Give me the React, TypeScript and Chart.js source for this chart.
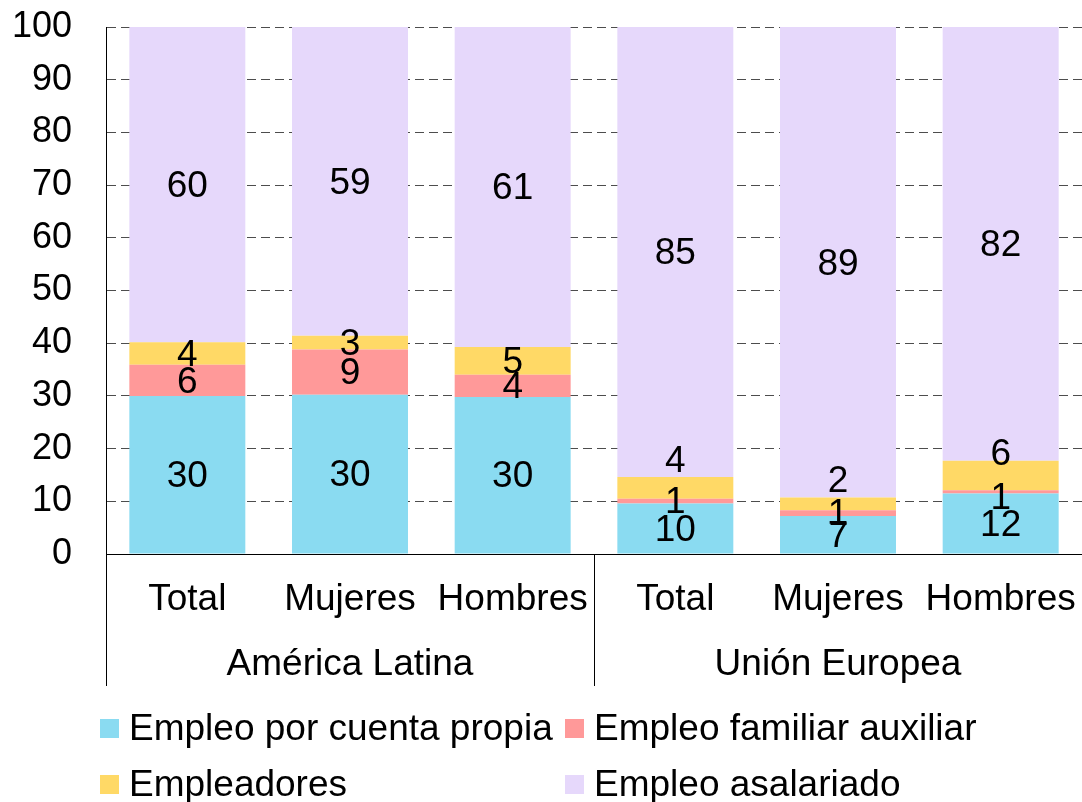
import React, { useEffect, useRef } from "react";
import { Chart, registerables } from "chart.js";

Chart.register(...registerables);

const categories = ["Total", "Mujeres", "Hombres", "Total", "Mujeres", "Hombres"];
const groups = ["América Latina", "Unión Europea"];
const seriesNames = [
  "Empleo por cuenta propia",
  "Empleo familiar auxiliar",
  "Empleadores",
  "Empleo asalariado",
];
const cuentaPropia = [30.0, 30.2, 29.8, 9.6, 7.2, 11.5];
const familiarAuxiliar = [5.9, 8.6, 4.2, 0.9, 1.1, 0.6];
const empleadores = [4.3, 2.6, 5.3, 4.1, 2.4, 5.6];
const asalariado = [59.8, 58.6, 60.7, 85.4, 89.3, 82.3];
const yTicks = [0, 10, 20, 30, 40, 50, 60, 70, 80, 90, 100];

const colors = ["#8ADBF1", "#FF9999", "#FFD966", "#E6D8FB"];
const FONT = "'Liberation Sans', Arial, sans-serif";
const FS = 37;

// label nudges (pixels) for crowded segments: key "dataset-index"
const labelNudge: Record<string, number> = {
  "2-3": -28,
  "2-4": -24,
  "2-5": -23,
  "1-5": 5,
};

const labelPlugin = {
  id: "segLabels",
  afterDatasetsDraw(chart: any) {
    const ctx = chart.ctx;
    ctx.save();
    ctx.font = `${FS}px ${FONT}`;
    ctx.fillStyle = "#000";
    ctx.textAlign = "center";
    ctx.textBaseline = "middle";
    chart.data.datasets.forEach((ds: any, di: number) => {
      const meta = chart.getDatasetMeta(di);
      meta.data.forEach((el: any, i: number) => {
        const v = ds.data[i];
        const y = (el.y + el.base) / 2 + (labelNudge[`${di}-${i}`] || 0);
        ctx.fillText(String(Math.round(v)), el.x, y + 2);
      });
    });
    ctx.restore();
  },
};

const axisPlugin = {
  id: "customAxis",
  afterDraw(chart: any) {
    const ctx = chart.ctx;
    const area = chart.chartArea;
    const xs = chart.scales.x;
    const bottomY = area.bottom;
    const sepBottom = bottomY + 132;
    ctx.save();
    ctx.strokeStyle = "#000";
    ctx.lineWidth = 1;
    ctx.beginPath();
    ctx.moveTo(area.left, bottomY + 0.5);
    ctx.lineTo(chart.width, bottomY + 0.5);
    const step = xs.getPixelForValue(1) - xs.getPixelForValue(0);
    const x0 = Math.round(xs.getPixelForValue(0) - step / 2) + 0.5;
    const x1 = Math.round(xs.getPixelForValue(3) - step / 2) + 0.5;
    ctx.moveTo(x0, bottomY);
    ctx.lineTo(x0, sepBottom);
    ctx.moveTo(x1, bottomY);
    ctx.lineTo(x1, sepBottom);
    ctx.stroke();

    ctx.font = `${FS}px ${FONT}`;
    ctx.fillStyle = "#000";
    ctx.textAlign = "center";
    ctx.textBaseline = "middle";
    categories.forEach((c, i) => {
      ctx.fillText(c, xs.getPixelForValue(i), bottomY + 46);
    });
    groups.forEach((g, gi) => {
      const cx = (xs.getPixelForValue(gi * 3) + xs.getPixelForValue(gi * 3 + 2)) / 2;
      ctx.fillText(g, cx, bottomY + 111);
    });

    const colX = [100, 565];
    const rowY = [728, 784];
    ctx.textAlign = "left";
    seriesNames.forEach((name, i) => {
      const cx = colX[i % 2];
      const cy = rowY[Math.floor(i / 2)];
      ctx.fillStyle = colors[i];
      ctx.fillRect(cx, cy - 9, 19, 19);
      ctx.fillStyle = "#000";
      ctx.fillText(name, cx + 29, cy + 2);
    });
    ctx.restore();
  },
};

export default function App() {
  const ref = useRef<HTMLCanvasElement | null>(null);
  useEffect(() => {
    document.body.style.margin = "0";
    const canvas = ref.current;
    if (!canvas) return;
    const seriesData = [cuentaPropia, familiarAuxiliar, empleadores, asalariado];
    const chart = new Chart(canvas, {
      type: "bar",
      data: {
        labels: categories,
        datasets: seriesNames.map((n, i) => ({
          label: n,
          data: seriesData[i],
          backgroundColor: colors[i],
          borderWidth: 0,
          barPercentage: 0.713,
          categoryPercentage: 1,
        })),
      },
      options: {
        responsive: false,
        animation: false,
        devicePixelRatio: 1,
        layout: { padding: { top: 27, bottom: 248, left: 0, right: 0 } },
        plugins: {
          legend: { display: false },
          tooltip: { enabled: false },
        },
        scales: {
          x: {
            stacked: true,
            display: false,
          },
          y: {
            stacked: true,
            min: 0,
            max: 100,
            afterFit: (scale: any) => {
              scale.width = 106;
              scale.paddingTop = 0;
              scale.paddingBottom = 0;
            },
            afterBuildTicks: (scale: any) => {
              scale.ticks = yTicks.map((v) => ({ value: v }));
            },
            ticks: {
              color: "#000",
              font: { family: FONT, size: 36 },
              padding: 34,
            },
            grid: {
              color: "#4d4d4d",
              lineWidth: 1,
              drawTicks: false,
            },
            border: {
              display: true,
              color: "#000",
              width: 1,
              dash: [9, 5],
            },
          },
        },
      },
      plugins: [labelPlugin, axisPlugin],
    });
    return () => chart.destroy();
  }, []);
  return (
    <div style={{ position: "absolute", left: 0, top: 0, width: 1082, height: 802 }}>
      <canvas ref={ref} width={1082} height={802} style={{ width: 1082, height: 802 }} />
    </div>
  );
}
